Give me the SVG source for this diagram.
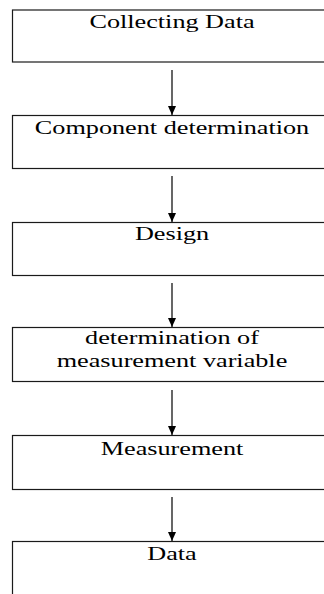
<svg xmlns="http://www.w3.org/2000/svg" width="324" height="594" viewBox="0 0 324 594">
<defs>
<style>
.box{fill:#fff;stroke:#1a1a1a;stroke-width:1.2}
.lbl{font-family:"Liberation Serif","Times New Roman",serif;font-size:19px;fill:#000;text-anchor:middle}
.conn{stroke:#000;stroke-width:1.2;fill:none;marker-end:url(#ah)}
</style>
<marker id="ah" viewBox="0 0 9 8" refX="9" refY="4" markerWidth="9" markerHeight="8" markerUnits="userSpaceOnUse" orient="auto">
<path d="M0,0 L9,4 L0,8 Z" fill="#000"/>
</marker>
</defs>
<rect width="324" height="594" fill="#fff"/>
<g id="n1"><rect class="box" x="12.5" y="10" width="330" height="52"/><text class="lbl" transform="matrix(1.38,0,0,1,172,28)">Collecting Data</text></g>
<g id="n2"><rect class="box" x="12.5" y="115.5" width="330" height="53"/><text class="lbl" transform="matrix(1.38,0,0,1,172,134)">Component determination</text></g>
<g id="n3"><rect class="box" x="12.5" y="222.5" width="330" height="53"/><text class="lbl" transform="matrix(1.38,0,0,1,172,240)">Design</text></g>
<g id="n4"><rect class="box" x="12.5" y="327.5" width="330" height="54"/><text class="lbl" transform="matrix(1.38,0,0,1,172,344)">determination of</text><text class="lbl" transform="matrix(1.38,0,0,1,172,367)">measurement variable</text></g>
<g id="n5"><rect class="box" x="12.5" y="435.5" width="330" height="54"/><text class="lbl" transform="matrix(1.38,0,0,1,172,455)">Measurement</text></g>
<g id="n6"><rect class="box" x="12.5" y="541.5" width="330" height="80"/><text class="lbl" transform="matrix(1.38,0,0,1,172,560)">Data</text></g>
<g id="connectors">
<path class="conn" d="M172,70 V115"/>
<path class="conn" d="M172,176 V222"/>
<path class="conn" d="M172,283 V327"/>
<path class="conn" d="M172,390 V435"/>
<path class="conn" d="M172,497 V541"/>
</g>
</svg>
